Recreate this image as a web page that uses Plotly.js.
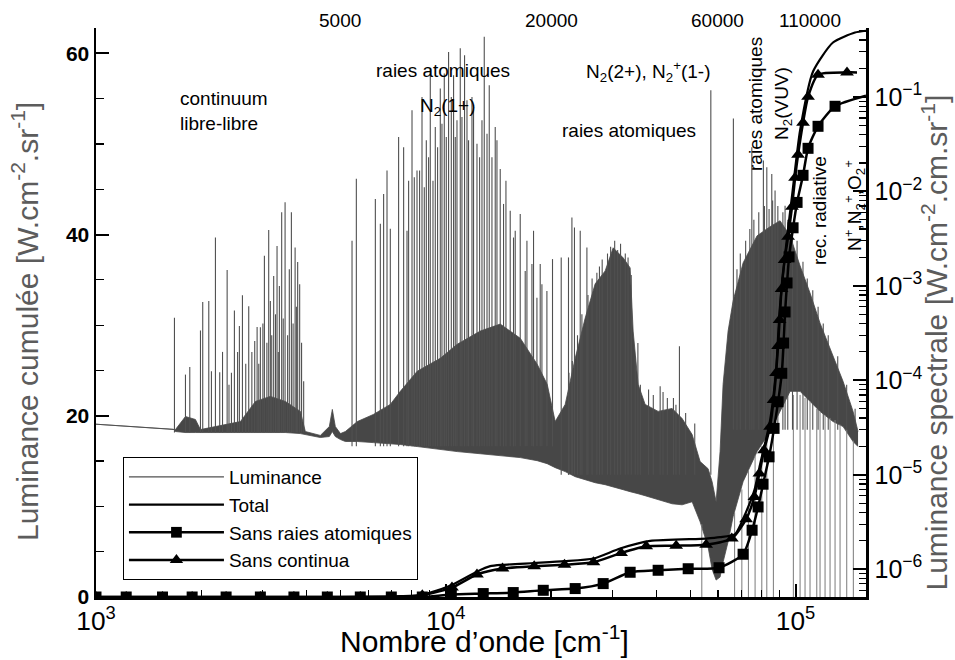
<!DOCTYPE html>
<html>
<head>
<meta charset="utf-8">
<script src="https://cdn.plot.ly/plotly-3.0.1.min.js"></script>
<style>body{margin:0;background:#fff}</style>
</head>
<body>
<div id="chart" style="width:955px;height:660px"></div>
<script>
// ---------------- DATA ----------------
// Spectral luminance: envelope of the dense continuum / band emission [W.cm-2.cm.sr-1]
const bandW  = [1000,1665,1687,1802,1924,1989,2588,2856,3151,3478,3839,3967,4379,4646,4739,4833,5000,5163,5587,6207,6941,7413,8290,9645,10786,12550,14311,16325,18256,19498,20553,21950,23442,25036,26737,28556,30100,32150,33660,34330,35480,37150,40470,44370,47390,50620,53350,56230,57730,59280,60840,62060,64140,66280,70790,77620,84550,90300,96450,103020,110000,117490,127960,136710,146020,150880];
const bandLo = [3.43e-5,3.03e-5,2.87e-5,2.80e-5,2.80e-5,2.80e-5,2.80e-5,2.80e-5,2.80e-5,2.80e-5,2.73e-5,2.67e-5,2.48e-5,2.54e-5,2.87e-5,2.54e-5,2.36e-5,2.25e-5,2.25e-5,2.19e-5,2.14e-5,2.09e-5,1.99e-5,1.85e-5,1.76e-5,1.67e-5,1.60e-5,1.52e-5,1.41e-5,1.31e-5,1.19e-5,1.08e-5,9.55e-6,8.87e-6,8.24e-6,7.85e-6,7.48e-6,6.95e-6,6.62e-6,6.46e-6,6.30e-6,6.0e-6,5.43e-6,4.93e-6,4.81e-6,5.18e-6,3.18e-6,1.72e-6,1.0e-6,7.68e-7,8.26e-7,1.19e-6,1.95e-6,3.59e-6,8.45e-6,1.76e-5,2.87e-5,4.69e-5,7.64e-5,7.64e-5,5.98e-5,4.69e-5,3.66e-5,3.24e-5,2.25e-5,1.99e-5];
const bandHi = [3.43e-5,3.03e-5,3.01e-5,4.14e-5,3.85e-5,3.01e-5,3.66e-5,5.98e-5,6.76e-5,5.98e-5,4.69e-5,2.87e-5,2.61e-5,3.24e-5,4.92e-5,3.24e-5,2.73e-5,2.87e-5,3.66e-5,4.35e-5,5.56e-5,7.64e-5,1.25e-4,1.71e-4,2.41e-4,3.32e-4,3.94e-4,2.79e-4,1.48e-4,9.06e-5,3.66e-5,5.56e-5,1.71e-4,4.56e-4,1.05e-3,1.44e-3,2.53e-3,1.98e-3,1.55e-3,3.32e-4,9.06e-5,5.56e-5,4.69e-5,5.04e-5,3.94e-5,2.67e-5,1.38e-5,1.16e-5,8.45e-6,5.18e-6,1.76e-5,9.06e-5,3.32e-4,6.91e-4,1.75e-3,3.39e-3,4.23e-3,4.89e-3,3.39e-3,1.63e-3,8.41e-4,4.03e-4,1.80e-4,9.76e-5,4.69e-5,2.87e-5];

// Atomic lines, 1700-5000 cm-1 (peak values), starting from the continuum
const linesB_W   = [1676,1802,1854,1989,2019,2101,2138,2195,2258,2300,2371,2400,2439,2487,2540,2570,2622,2680,2733,2790,2843,2888,2920,2951,3000,3030,3080,3117,3151,3180,3221,3260,3293,3320,3344,3395,3430,3472,3530,3570,3619,3660,3709,3740,3772,3822,3870,3924];
const linesB_Top = [4.59e-4,1.15e-4,1.38e-4,3.37e-4,6.75e-4,6.91e-4,1.25e-4,3.25e-3,1.22e-4,2.0e-4,1.47e-3,9.0e-5,1.20e-4,5.5e-4,2.0e-4,3.75e-4,7.94e-4,1.5e-4,6.07e-4,2.0e-4,2.6e-4,3.66e-4,1.5e-4,3.65e-4,4.0e-4,2.08e-3,2.5e-4,3.9e-3,6.91e-4,3.0e-4,1.27e-3,5.0e-4,2.65e-3,2.0e-4,9.97e-4,6.0e-3,4.5e-4,7.66e-3,3.0e-4,1.5e-3,6.0e-3,4.0e-4,2.55e-3,6.0e-4,1.79e-3,1.04e-3,2.5e-4,9.76e-5];
const linesB_Base = 2.8e-5;

// Atomic lines + N2(1+), 5000-20000 cm-1
const linesC_W   = [5395,5550,6290,6500,6642,6792,6941,7331,7577,7747,7830,8007,8128,8275,8416,8551,8681,8797,8930,9030,9192,9333,9475,9645,9752,9902,10033,10186,10370,10527,10645,10765,11000,11124,11316,11498,11617,11882,12006,12280,12494,12690,12882,13118,13313,13552,13848,14006,14311,14626,14859,15284,15619,15795,16325,16869,17061,17632,17819,18222,18621,18831,19458,20190];
const linesC_Top = [3.0e-3,1.36e-2,8.32e-3,4.55e-3,9.41e-3,1.66e-2,4.02e-3,3.76e-2,2.94e-2,3.83e-3,1.30e-2,7.22e-2,1.41e-2,1.66e-2,1.66e-2,0.10,1.11e-2,3.47e-2,2.30e-2,0.20,1.30e-2,4.8e-2,2.94e-2,0.123,5.2e-2,0.177,3.76e-2,0.30,0.10,0.17,3.76e-2,5.65e-2,0.327,6.13e-2,0.277,9.22e-2,3.47e-2,0.10,7.22e-2,3.2e-2,2.30e-2,5.65e-2,0.435,4.08e-2,0.133,2.30e-2,4.8e-2,3.47e-2,1.73e-2,7.37e-3,1.30e-2,6.25e-3,3.25e-3,3.83e-3,5.77e-3,1.44e-3,3.0e-3,1.70e-3,3.83e-3,7.5e-4,1.70e-3,1.04e-3,8.83e-4,1.92e-3];
const linesC_Base = 2.0e-5;

// Lines, 20000-60000 cm-1 (N2(2+), N2+(1-) heads and atomic lines)
const linesD_W   = [21380,22430,22500,22940,23000,23330,23800,24230,24500,25320,25500,26200,27040,27500,28000,29000,29600,30400,31000,31600,32600,33200,33900,34800,35420,36000,38000,39200,41010,41800,43000,44760,45500,46560,48500,51500,57250];
const linesD_Top = [2.0e-3,2.0e-3,1.2e-4,5.3e-3,1.6e-4,4.15e-3,3.0e-4,3.83e-3,5.0e-4,2.55e-3,8.0e-4,1.2e-3,1.38e-3,1.6e-3,1.9e-3,2.2e-3,2.6e-3,3.0e-3,2.4e-3,2.8e-3,2.2e-3,2.0e-3,1.3e-3,1.8e-4,2.49e-4,9e-5,8e-5,7e-5,8.63e-5,7.5e-5,6.5e-5,6.49e-5,5.5e-5,2.3e-4,4.5e-5,3.5e-5,0.118];
const linesD_Base = 1.0e-5;

// Lines over the VUV band
const linesE_W   = [66410,68000,69500,72000,74000,74990,76000,78500,80910,81500,82760,84000,85510,86000,87380,89000,92000,93330,95000,98000,101000,105000,108000,112000,116000,120000,124000,132000,140000,148000];
const linesE_Top = [5.9e-2,1.5e-3,2.2e-3,3.0e-3,4.0e-3,2.94e-2,5.0e-3,6.0e-3,2.12e-2,7.0e-3,1.8e-2,6.5e-3,1.53e-2,8.0e-3,1.02e-2,7.0e-3,6.0e-3,7.06e-3,5.0e-3,4.0e-3,3.0e-3,1.8e-3,1.2e-3,9e-4,6e-4,4e-4,3e-4,1.8e-4,9e-5,5e-5];
const linesE_Base = 3e-5;

// Deep absorption-like lines in the VUV (from band down past the axis floor)
const dropW   = [53950,66950,70220,73320,76610,80080,82760,86420,98560,103020,106440,110000,114990,117490,121430,125490,129690,134030,140070,146280];
const dropTop = [3e-6,4e-6,7e-6,1.1e-5,1.6e-5,2e-5,2.4e-5,3e-5,7e-5,7e-5,6.5e-5,6e-5,5e-5,4.7e-5,4.3e-5,4e-5,3.8e-5,3.4e-5,3e-5,2.3e-5];
const dropFloor = 5e-7;

// Cumulative luminance [W.cm-2.sr-1]
const totalW = [1000,5000,7413,8568,10370,12280,13400,14530,17900,21850,26440,31510,38400,55510,60840,67170,72220,76270,78820,84550,87960,90010,93330,97720,103020,112200,127950,147910,159000];
const totalV = [0,0,0.1,0.25,1.3,2.8,3.4,3.55,3.75,3.95,4.25,5.35,6.19,6.45,6.6,6.95,9.4,11.8,14.3,19.5,25.0,31.5,37.8,44.3,51.5,58.0,61.2,62.3,62.5];

const sansRaiesW = [1000,1220,1549,1883,2355,2951,3680,4585,5697,6987,8568,10370,12796,15590,18997,23442,28184,33660,40470,49320,60440,70790,75120,78140,80740,84000,86810,89130,91340,92420,93330,94570,95820,98380,101000,105050,108570,115950,129690,159000];
const sansRaiesV = [0,0,0,0,0,0,0,0,0,0,0,0.27,0.38,0.49,0.74,0.93,1.48,2.73,2.95,3.12,3.23,4.72,7.37,9.94,12.45,15.47,18.61,21.55,24.69,28.03,31.46,34.66,37.54,40.75,43.55,46.54,49.52,51.95,54.16,55.33];

const sansContW = [1000,1220,1549,1883,2355,2951,3680,4585,5697,6987,8568,10416,12280,14530,17900,21850,26440,31720,37410,45570,55510,65730,72220,76270,78820,81280,84550,86520,87960,89130,90010,91200,93030,95190,97720,99680,101650,105050,108570,115950,140320,149860];
const sansContV = [0,0,0,0,0,0,0,0,0,0,0.19,1.04,2.48,3.14,3.39,3.56,3.83,4.86,5.60,5.66,5.77,6.45,8.59,11.05,13.64,16.21,18.78,21.73,24.72,27.70,30.57,34.0,37.2,39.75,43.07,46.27,48.81,52.35,55.2,57.65,57.9,57.9];

// Spectral region boundaries
const boundaries = [5000, 20000, 60000, 110000];
const boundaryLabels = ['5000', '20000', '60000', '110000'];

const legendNames = ['Luminance', 'Total', 'Sans raies atomiques', 'Sans continua'];

// ---------------- BUILD ----------------
function segments(ws, lows, highs) {
  const x = [], y = [];
  ws.forEach((w, i) => {
    x.push(w, w, null);
    y.push(Array.isArray(lows) ? lows[i] : lows, highs[i], null);
  });
  return {x, y};
}
const segB = segments(linesB_W, linesB_Base, linesB_Top);
const segC = segments(linesC_W, linesC_Base, linesC_Top);
const segD = segments(linesD_W, linesD_Base, linesD_Top);
const segE = segments(linesE_W, linesE_Base, linesE_Top);
const allLinesX = [].concat(segB.x, segC.x, segD.x, segE.x);
const allLinesY = [].concat(segB.y, segC.y, segD.y, segE.y);
const drops = segments(dropW, dropW.map(() => dropFloor), dropTop);

const GREY = '#474747';
const markerSizes = (arr, s) => arr.map((_, i) => (i < arr.length - 1 ? s : 0));

const traces = [
  {x: bandW, y: bandLo, type: 'scatter', mode: 'lines', line: {color: GREY, width: 0.8},
   showlegend: false, hoverinfo: 'skip', xaxis: 'x', yaxis: 'y'},
  {x: bandW, y: bandHi, type: 'scatter', mode: 'lines', line: {color: GREY, width: 0.8},
   fill: 'tonexty', fillcolor: GREY, showlegend: false, hoverinfo: 'skip', xaxis: 'x', yaxis: 'y'},
  {x: drops.x, y: drops.y, type: 'scatter', mode: 'lines', line: {color: '#7a7a7a', width: 1},
   showlegend: false, hoverinfo: 'skip', xaxis: 'x', yaxis: 'y'},
  {x: allLinesX, y: allLinesY, type: 'scatter', mode: 'lines', line: {color: '#505050', width: 1.1},
   name: legendNames[0], legendrank: 1, hoverinfo: 'skip', xaxis: 'x', yaxis: 'y'},
  {x: totalW, y: totalV, type: 'scatter', mode: 'lines', line: {color: '#000', width: 2.2, shape: 'spline', smoothing: 0.6},
   name: legendNames[1], legendrank: 2, xaxis: 'x', yaxis: 'y2'},
  {x: sansContW, y: sansContV, type: 'scatter', mode: 'lines+markers',
   line: {color: '#000', width: 2.5, shape: 'spline', smoothing: 0.6},
   marker: {symbol: 'triangle-up', color: '#000', opacity: 1, line: {width: 0},
            size: markerSizes(sansContW, 12)},
   name: legendNames[3], legendrank: 4, xaxis: 'x', yaxis: 'y2'},
  {x: sansRaiesW, y: sansRaiesV, type: 'scatter', mode: 'lines+markers',
   line: {color: '#000', width: 2.5, shape: 'spline', smoothing: 0.6},
   marker: {symbol: 'square', color: '#000', opacity: 1, line: {width: 0},
            size: markerSizes(sansRaiesW, 11)},
   name: legendNames[2], legendrank: 3, xaxis: 'x', yaxis: 'y2'}
];

const FONT = 'Liberation Sans, Arial, Helvetica, sans-serif';
const shapes = boundaries.map(b => ({
  type: 'line', xref: 'x', yref: 'paper', x0: Math.log10(b), x1: Math.log10(b), y0: 0, y1: 0.988,
  line: {color: '#000', width: 1.6, dash: '12px,5px,2px,5px'}, layer: 'above'
}));

const ann = (text, x, y, opts) => Object.assign({
  text, x, y, xref: 'paper', yref: 'paper', showarrow: false,
  xanchor: 'center', yanchor: 'middle',
  font: {family: FONT, size: 19, color: '#000'}
}, opts || {});

const annotations = [
  ...boundaries.map((b, i) => ({
    text: boundaryLabels[i], xref: 'x', yref: 'paper', x: Math.log10(b), y: 1.014,
    showarrow: false, xanchor: 'center', yanchor: 'middle',
    font: {family: FONT, size: 19, color: '#000'}
  })),
  ann('continuum<br>libre-libre', 0.1065, 0.898, {xanchor: 'left', yanchor: 'top', align: 'left'}),
  ann('raies atomiques', 0.4506, 0.926),
  ann('N<sub>2</sub>(1+)', 0.4571, 0.861),
  ann('N<sub>2</sub>(2+), N<sub>2</sub><sup>+</sup>(1-)', 0.717, 0.9227),
  ann('raies atomiques', 0.692, 0.8207),
  ann('raies atomiques', 0.8558, 0.8664, {textangle: -90}),
  ann('N<sub>2</sub>(VUV)', 0.8922, 0.8682, {textangle: -90}),
  ann('rec. radiative', 0.9403, 0.6784, {textangle: -90}),
  ann('N<sup>+</sup>,N<sub>2</sub><sup>+</sup>,O<sub>2</sub><sup>+</sup>', 0.9844, 0.6889, {textangle: -90}),
  ann('Luminance cumulée [W.cm<sup>-2</sup>.sr<sup>-1</sup>]', -0.0922, 0.4833,
      {textangle: -90, font: {family: FONT, size: 30, color: '#5c5c5c'}}),
  ann('Luminance spectrale [W.cm<sup>-2</sup>.cm.sr<sup>-1</sup>]', 1.089, 0.4464,
      {textangle: -90, font: {family: FONT, size: 30, color: '#5c5c5c'}}),
  ann('Nombre d’onde [cm<sup>-1</sup>]', 0.505, -0.074,
      {font: {family: FONT, size: 30, color: '#000'}})
];

const axisCommon = {
  showgrid: false, zeroline: false, showline: true, linecolor: '#000', linewidth: 2.5,
  ticks: 'inside', ticklen: 13, tickwidth: 2, tickcolor: '#000', mirror: false
};

const layout = {
  width: 955, height: 660,
  margin: {l: 96, r: 89, t: 28, b: 63},
  paper_bgcolor: '#fff', plot_bgcolor: '#fff',
  font: {family: FONT, color: '#000'},
  showlegend: true,
  legend: {
    x: 0.035, y: 0.246, xanchor: 'left', yanchor: 'top', traceorder: 'normal',
    bgcolor: '#fff', bordercolor: '#000', borderwidth: 1,
    font: {family: FONT, size: 19, color: '#000'}, tracegroupgap: 0, itemwidth: 95
  },
  xaxis: Object.assign({}, axisCommon, {
    type: 'log', range: [3, Math.log10(159000)], dtick: 1, exponentformat: 'power',
    tickfont: {family: FONT, size: 21, color: '#000'},
    minor: {ticks: 'inside', ticklen: 7, tickwidth: 1.2, tickcolor: '#000', dtick: 'D1'}
  }),
  yaxis: Object.assign({}, axisCommon, {
    type: 'log', side: 'right', range: [-6.294, -0.27], dtick: 1, exponentformat: 'power',
    tickfont: {family: FONT, size: 20, color: '#000'}, ticklabelstandoff: 2,
    minor: {ticks: 'inside', ticklen: 7, tickwidth: 1.2, tickcolor: '#000', dtick: 'D1'}
  }),
  yaxis2: Object.assign({}, axisCommon, {
    overlaying: 'y', side: 'left', range: [0, 62.8], dtick: 20,
    tickfont: {family: FONT, size: 21, color: '#000', weight: 'bold'},
    minor: {ticks: 'inside', ticklen: 8, tickwidth: 1.2, tickcolor: '#000', dtick: 5}
  }),
  shapes, annotations
};

Plotly.newPlot('chart', traces, layout, {staticPlot: true, displayModeBar: false});
</script>
</body>
</html>
